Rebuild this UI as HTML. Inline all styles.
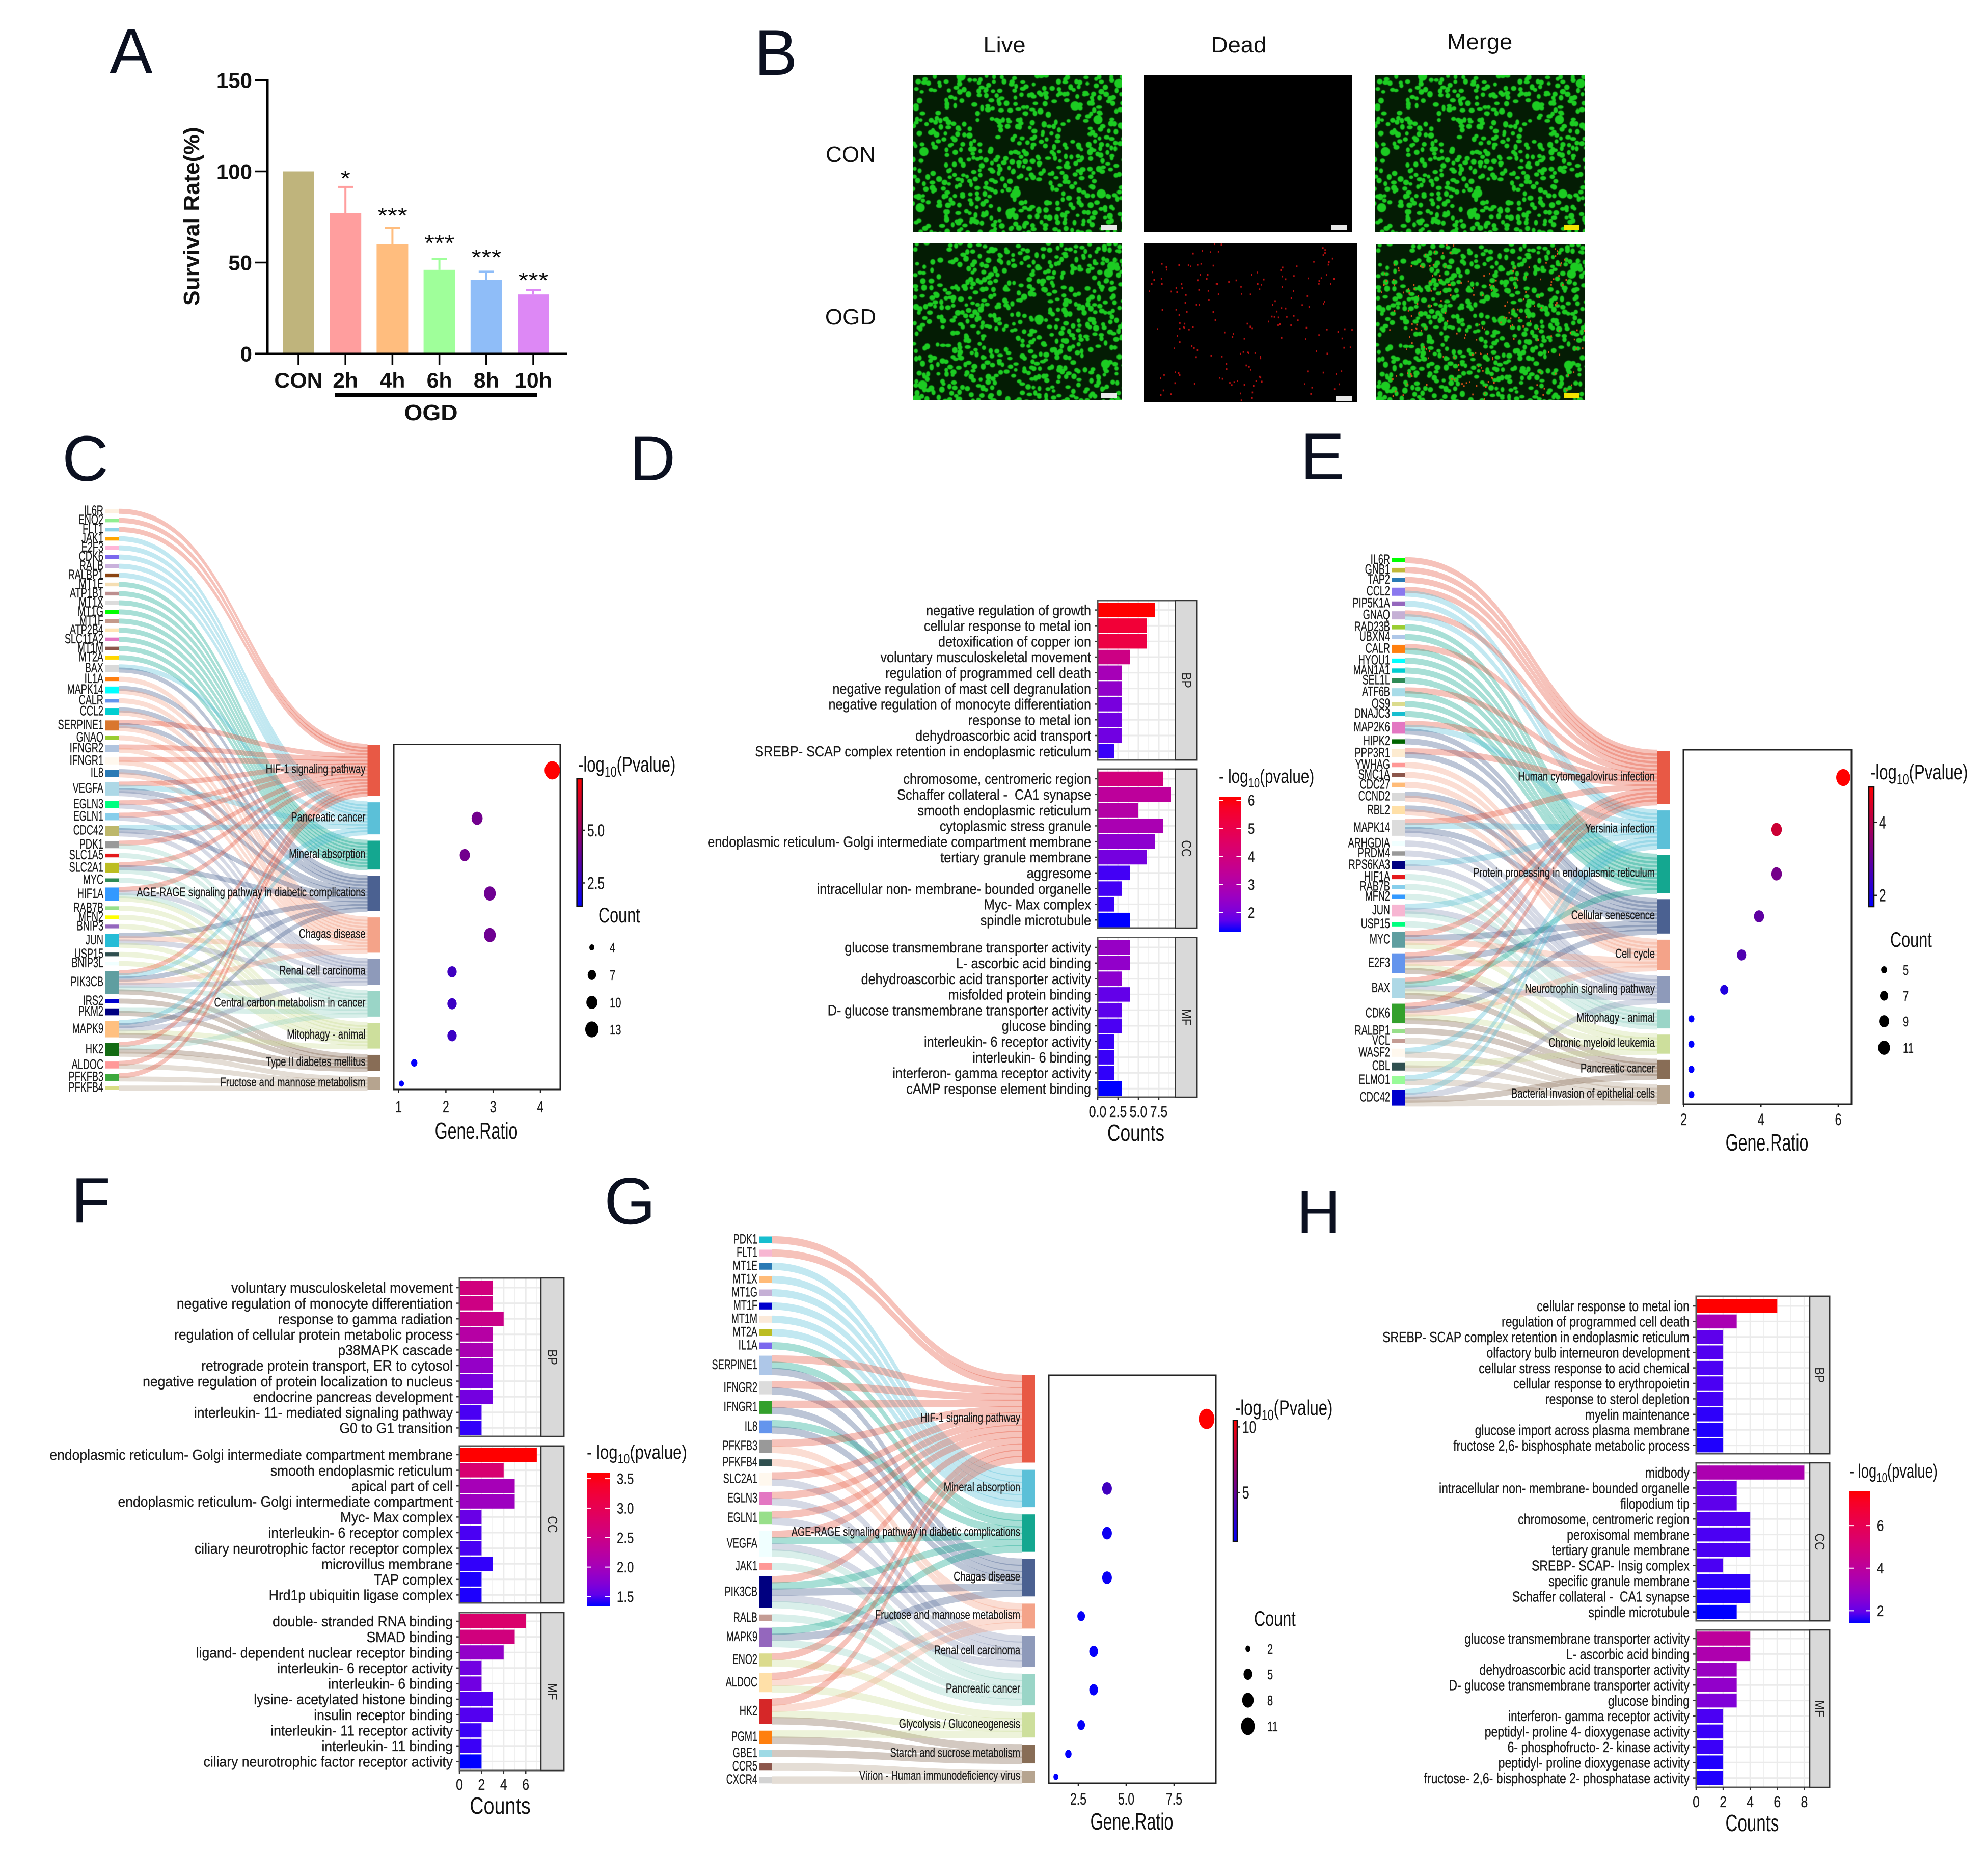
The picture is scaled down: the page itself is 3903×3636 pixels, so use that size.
<!DOCTYPE html>
<html lang="en">
<head>
<meta charset="utf-8">
<title>Survival, live/dead imaging and enrichment analysis figure</title>
<style>
html,body{margin:0;padding:0;background:#fff;}
svg{display:block;font-family:"Liberation Sans",sans-serif;}
text{white-space:pre;}
</style>
</head>
<body>
<svg id="figure" xmlns="http://www.w3.org/2000/svg" width="3903" height="3636" viewBox="0 0 3903 3636">
<defs>
<linearGradient id="blue-red" x1="0" y1="1" x2="0" y2="0"><stop offset="0" stop-color="#0000ff"/><stop offset="1" stop-color="#ff0000"/></linearGradient>
<linearGradient id="blue-red-lab" x1="0" y1="1" x2="0" y2="0"></linearGradient>
<filter id="soft-cells" x="0" y="0" width="100%" height="100%"><feGaussianBlur stdDeviation="0.9"/></filter>
</defs>
<rect width="3903" height="3636" fill="#fff"/>

<g font-size="127" fill="#0b1020">
<text x="215" y="144">A</text>
<text x="1481" y="147">B</text>
<text x="122" y="944" font-size="126">C</text>
<text x="1236" y="943" font-size="125">D</text>
<text x="2553" y="941" font-size="130">E</text>
<text x="140" y="2400" font-size="126">F</text>
<text x="1186" y="2403" font-size="130">G</text>
<text x="2546" y="2420" font-size="118">H</text>
</g>

<g id="panel-a">
<text transform="translate(391 600) rotate(-90) scale(1.01 1)" font-size="44" font-weight="bold" fill="#111">Survival Rate(%)</text>
<text transform="translate(846 825) scale(1.05 1)" font-size="44" font-weight="bold" text-anchor="middle" fill="#111">OGD</text>
<rect x="657" y="771" width="398" height="8" fill="#000"/>
</g>

<g id="panel-b">
<g font-size="44" fill="#111" text-anchor="middle">
<text transform="translate(1972 103) scale(1.03 1)">Live</text>
<text transform="translate(2432 103) scale(1.03 1)">Dead</text>
<text transform="translate(2905 97) scale(1.03 1)">Merge</text>
<text transform="translate(1670 318)">CON</text>
<text transform="translate(1670 637)">OGD</text>
</g>
</g>

<g id="panel-c">
<text transform="translate(1135 1515) scale(.74 1)" font-size="42" fill="#111">-log<tspan dy="10" font-size="29">10</tspan><tspan dy="-10">(Pvalue)</tspan></text>
<text transform="translate(1175 1811) scale(.73 1)" font-size="42" fill="#111">Count</text>
<text transform="translate(935 2236) scale(.7 1)" font-size="46" text-anchor="middle" fill="#111">Gene.Ratio</text>
</g>

<g id="panel-d">
<text transform="translate(2393 1537) scale(.78 1)" font-size="38" fill="#111">- log<tspan dy="9" font-size="26">10</tspan><tspan dy="-9">(pvalue)</tspan></text>
<text transform="translate(2230 2240) scale(.77 1)" font-size="46" text-anchor="middle" fill="#111">Counts</text>
</g>

<g id="panel-e">
<text transform="translate(3672 1530) scale(.74 1)" font-size="42" fill="#111">-log<tspan dy="10" font-size="29">10</tspan><tspan dy="-10">(Pvalue)</tspan></text>
<text transform="translate(3711 1859) scale(.73 1)" font-size="42" fill="#111">Count</text>
<text transform="translate(3469 2259) scale(.7 1)" font-size="46" text-anchor="middle" fill="#111">Gene.Ratio</text>
</g>

<g id="panel-f">
<text transform="translate(1152 2864) scale(.82 1)" font-size="38" fill="#111">- log<tspan dy="9" font-size="26">10</tspan><tspan dy="-9">(pvalue)</tspan></text>
<text transform="translate(982 3561) scale(.82 1)" font-size="46" text-anchor="middle" fill="#111">Counts</text>
</g>

<g id="panel-g">
<text transform="translate(2425 2778) scale(.74 1)" font-size="42" fill="#111">-log<tspan dy="10" font-size="29">10</tspan><tspan dy="-10">(Pvalue)</tspan></text>
<text transform="translate(2462 3192) scale(.73 1)" font-size="42" fill="#111">Count</text>
<text transform="translate(2222 3592) scale(.7 1)" font-size="46" text-anchor="middle" fill="#111">Gene.Ratio</text>
</g>

<g id="panel-h">
<text transform="translate(3631 2901) scale(.72 1)" font-size="38" fill="#111">- log<tspan dy="9" font-size="26">10</tspan><tspan dy="-9">(pvalue)</tspan></text>
<text transform="translate(3440 3595) scale(.72 1)" font-size="46" text-anchor="middle" fill="#111">Counts</text>
</g>
</svg>

<script>
/* ---------- Panel A data ---------- */
const survivalCategories = ['CON','2h','4h','6h','8h','10h'];
const survivalMeans = [100,77,60,46,40.5,32.5];
const survivalErrorTops = [100,91.5,69,52,45,35];
const survivalStars = ['','*','***','***','***','***'];
const survivalTicks = [0,50,100,150];

/* ---------- Panel C data ---------- */
const cGenes = ['IL6R','ENO2','FLT1','JAK1','E2F3','CDK6','RALB','RALBP1','MT1E','ATP1B1','MT1X','MT1G','MT1F','ATP2B4','SLC11A2','MT1M','MT2A','BAX','IL1A','MAPK14','CALR','CCL2','SERPINE1','GNAQ','IFNGR2','IFNGR1','IL8','VEGFA','EGLN3','EGLN1','CDC42','PDK1','SLC1A5','SLC2A1','MYC','HIF1A','RAB7B','MFN2','BNIP3','JUN','USP15','BNIP3L','PIK3CB','IRS2','PKM2','MAPK9','HK2','ALDOC','PFKFB3','PFKFB4'];
const cGeneLinks = [[0],[0],[0],[1],[1],[1],[1],[1],[2],[2],[2],[2],[2],[2],[2],[2],[2],[1,3],[4],[3,4],[4],[3,4],[0,3,4],[4],[0,4],[0,4],[3,4],[0,1,3,5],[0,5],[0,5],[1,3,5],[0,6],[6],[0,3,6],[6],[0,5,6,7],[7],[7],[7],[3,4,5,7],[7],[7],[0,1,3,4,5,6,8],[8],[6,8],[1,3,5,7,8],[0,6,8,9],[0,9],[0,9],[9]];
const cGeneColors = ['#fdf0e0','#90ee90','#8fd3e8','#ffa500','#ffb6d8','#7b68ee','#c9b1dc','#8b4513','#f5deb3','#bc8f8f','#dcdcdc','#00ff00','#c49a8a','#ffe4b5','#e377c2','#8c564b','#ffd700','#d9d9d9','#ff7f0e','#00ffff','#6495ed','#00ced1','#d9772e','#9acd32','#b0c4de','#fff8ee','#2a7ab5','#add8e6','#00ff7f','#87ceeb','#bdb76b','#999999','#e41a1c','#bcbd22','#2e8b57','#3399ff','#98df8a','#ffff00','#9467bd','#26bcd6','#2f4f4f','#f0ffff','#5f9ea0','#0000cd','#000080','#ffc080','#136b13','#ff9999','#3ca83c','#d8dc84'];
const cPathways = ['HIF-1 signaling pathway','Pancreatic cancer','Mineral absorption','AGE-RAGE signaling pathway in diabetic complications','Chagas disease','Renal cell carcinoma','Central carbon metabolism in cancer','Mitophagy - animal','Type II diabetes mellitus','Fructose and mannose metabolism'];
const cRatios = [4.25,2.66,2.4,2.93,2.93,2.13,2.13,2.13,1.33,1.06];
const cCounts = [16,10,9,11,11,8,8,8,5,4];
const cPvalues = [7.44,4.1,4.1,4.0,4.0,2.9,2.8,2.8,1.5,1.4];
const cXTicks = [1,2,3,4];
const cColorTicks = ['5.0','2.5'];
const cLegendCounts = [4,7,10,13];

/* ---------- Panel E data ---------- */
const eGenes = ['IL6R','GNB1','TAP2','CCL2','PIP5K1A','GNAQ','RAD23B','UBXN4','CALR','HYOU1','MAN1A1','SEL1L','ATF6B','OS9','DNAJC3','MAP2K6','HIPK2','PPP3R1','YWHAG','SMC1A','CDC27','CCND2','RBL2','MAPK14','ARHGDIA','PRDM4','RPS6KA3','HIF1A','RAB7B','MFN2','JUN','USP15','MYC','E2F3','BAX','CDK6','RALBP1','VCL','WASF2','CBL','ELMO1','CDC42'];
const eGeneLinks = [[0],[0],[0],[0,1],[1],[0,1],[2],[2],[0,2],[2],[2],[2],[0,2],[2],[2],[0,1,3],[3],[0,3],[4],[4],[4],[3,4],[3,4],[0,1,3,5],[5],[5],[1,5],[6],[6],[6],[1,5,6],[6],[0,3,4,7],[0,3,4,7,8],[0,2,5,7,8],[0,3,4,7,8],[8],[9],[1,9],[7,9],[1,9],[1,5,8,9]];
const eGeneColors = ['#00ff00','#c0b838','#2a7ab5','#8a78ee','#9467bd','#c5b0d5','#9acd32','#aec7e8','#ff7f0e','#00ffff','#00ced1','#2e8b57','#a8dce8','#dbdb8d','#17becf','#e377c2','#006400','#fdebd0','#ff9896','#8c564b','#ffbb78','#d9d9d9','#ffe0a8','#dcdcdc','#f0ffff','#999999','#000080','#e41a1c','#87ceeb','#3399ff','#f7b6d2','#00ff7f','#5f9ea0','#6495ed','#add8e6','#33a02c','#98df8a','#c49c94','#fff8ee','#2f4f4f','#98fb98','#0000cd'];
const ePathways = ['Human cytomegalovirus infection','Yersinia infection','Protein processing in endoplasmic reticulum','Cellular senescence','Cell cycle','Neurotrophin signaling pathway','Mitophagy - animal','Chronic myeloid leukemia','Pancreatic cancer','Bacterial invasion of epithelial cells'];
const eRatios = [6.13,4.4,4.4,3.95,3.5,3.05,2.2,2.2,2.2,2.2];
const eCounts = [14,10,10,9,8,7,5,5,5,5];
const ePvalues = [4.97,4.3,3.2,2.9,2.7,2.1,1.7,1.7,1.7,1.7];
const eXTicks = [2,4,6];
const eColorTicks = ['4','2'];
const eLegendCounts = [5,7,9,11];

/* ---------- Panel G data ---------- */
const gGenes = ['PDK1','FLT1','MT1E','MT1X','MT1G','MT1F','MT1M','MT2A','IL1A','SERPINE1','IFNGR2','IFNGR1','IL8','PFKFB3','PFKFB4','SLC2A1','EGLN3','EGLN1','VEGFA','JAK1','PIK3CB','RALB','MAPK9','ENO2','ALDOC','HK2','PGM1','GBE1','CCR5','CXCR4'];
const gGeneLinks = [[0],[0],[1],[1],[1],[1],[1],[1],[2],[0,2,3],[0,3],[0,3],[2,3],[0,4],[4],[0,5],[0,5],[0,5],[0,2,5,6],[6],[0,2,3,5,6],[6],[2,3,6],[0,7],[0,4,7],[0,4,7,8],[7,8],[8],[9],[9]];
const gGeneColors = ['#17becf','#f7b6d2','#2a7ab5','#ffbb78','#c5b0d5','#0000cd','#fbe9d9','#bcbd22','#7b68ee','#aec7e8','#dcdcdc','#33a02c','#6495ed','#999999','#2f4f4f','#fff8ee','#e377c2','#98df8a','#f0ffff','#ff9896','#000080','#c49c94','#9467bd','#dbdb8d','#ffe0a8','#d62728','#ff7f0e','#9edae5','#8c564b','#d3d3d3'];
const gPathways = ['HIF-1 signaling pathway','Mineral absorption','AGE-RAGE signaling pathway in diabetic complications','Chagas disease','Fructose and mannose metabolism','Renal cell carcinoma','Pancreatic cancer','Glycolysis / Gluconeogenesis','Starch and sucrose metabolism','Virion - Human immunodeficiency virus'];
const gRatios = [9.2,4,4,4,2.65,3.3,3.3,2.65,1.98,1.33];
const gCounts = [14,6,6,6,4,5,5,4,3,2];
const gPvalues = [10.5,3.6,1.75,1.65,1.5,1.45,1.45,1.45,1.35,1.3];
const gXTicks = [2.5,5,7.5];
const gColorTicks = ['10','5'];
const gLegendCounts = [2,5,8,11];

const pathwayPalette = ['#E64B35','#4DBBD5','#00A087','#3C5488','#F39B7F','#8491B4','#91D1C2','#C9DC94','#7E6148','#B09C85'];

/* ---------- Panel D data ---------- */
const dBpTerms = ['negative regulation of growth','cellular response to metal ion','detoxification of copper ion','voluntary musculoskeletal movement','regulation of programmed cell death','negative regulation of mast cell degranulation','negative regulation of monocyte differentiation','response to metal ion','dehydroascorbic acid transport','SREBP- SCAP complex retention in endoplasmic reticulum'];
const dBpCounts = [7,6,6,4,3,3,3,3,3,2];
const dBpPvalues = [6.13,5.41,5.17,3.82,2.76,2.38,1.99,1.9,1.9,1.46];
const dCcTerms = ['chromosome, centromeric region','Schaffer collateral -  CA1 synapse','smooth endoplasmic reticulum','cytoplasmic stress granule','endoplasmic reticulum- Golgi intermediate compartment membrane','tertiary granule membrane','aggresome','intracellular non- membrane- bounded organelle','Myc- Max complex','spindle microtubule'];
const dCcCounts = [8,9,5,8,7,6,4,3,2,4];
const dCcPvalues = [3.97,3.34,3.1,2.86,2.28,1.95,1.51,1.51,1.46,1.32];
const dMfTerms = ['glucose transmembrane transporter activity','L- ascorbic acid binding','dehydroascorbic acid transporter activity','misfolded protein binding','D- glucose transmembrane transporter activity','glucose binding','interleukin- 6 receptor activity','interleukin- 6 binding','interferon- gamma receptor activity','cAMP response element binding'];
const dMfCounts = [4,4,3,4,3,3,2,2,2,3];
const dMfPvalues = [2.47,2.38,2.28,1.75,1.7,1.56,1.46,1.46,1.42,1.32];
const dXTicks = [0,2.5,5,7.5];
const dColorTicks = [6,5,4,3,2];

/* ---------- Panel F data ---------- */
const fBpTerms = ['voluntary musculoskeletal movement','negative regulation of monocyte differentiation','response to gamma radiation','regulation of cellular protein metabolic process','p38MAPK cascade','retrograde protein transport, ER to cytosol','negative regulation of protein localization to nucleus','endocrine pancreas development','interleukin- 11- mediated signaling pathway','G0 to G1 transition'];
const fBpCounts = [3,3,4,3,3,3,3,3,2,2];
const fBpPvalues = [2.58,2.52,2.47,2.2,2.06,1.86,1.66,1.63,1.45,1.39];
const fCcTerms = ['endoplasmic reticulum- Golgi intermediate compartment membrane','smooth endoplasmic reticulum','apical part of cell','endoplasmic reticulum- Golgi intermediate compartment','Myc- Max complex','interleukin- 6 receptor complex','ciliary neurotrophic factor receptor complex','microvillus membrane','TAP complex','Hrd1p ubiquitin ligase complex'];
const fCcCounts = [7,4,5,5,2,2,2,3,2,2];
const fCcPvalues = [3.6,2.7,2.02,1.93,1.57,1.45,1.45,1.39,1.36,1.36];
const fMfTerms = ['double- stranded RNA binding','SMAD binding','ligand- dependent nuclear receptor binding','interleukin- 6 receptor activity','interleukin- 6 binding','lysine- acetylated histone binding','insulin receptor binding','interleukin- 11 receptor activity','interleukin- 11 binding','ciliary neurotrophic factor receptor activity'];
const fMfCounts = [6,5,4,2,2,3,3,2,2,2];
const fMfPvalues = [2.76,2.58,1.84,1.61,1.61,1.48,1.48,1.41,1.41,1.34];
const fXTicks = [0,2,4,6];
const fColorTicks = [3.5,3.0,2.5,2.0,1.5];

/* ---------- Panel H data ---------- */
const hBpTerms = ['cellular response to metal ion','regulation of programmed cell death','SREBP- SCAP complex retention in endoplasmic reticulum','olfactory bulb interneuron development','cellular stress response to acid chemical','cellular response to erythropoietin','response to sterol depletion','myelin maintenance','glucose import across plasma membrane','fructose 2,6- bisphosphate metabolic process'];
const hBpCounts = [6,3,2,2,2,2,2,2,2,2];
const hBpPvalues = [7.63,3.4,1.91,1.78,1.72,1.72,1.66,1.53,1.47,1.47];
const hCcTerms = ['midbody','intracellular non- membrane- bounded organelle','filopodium tip','chromosome, centromeric region','peroxisomal membrane','tertiary granule membrane','SREBP- SCAP- Insig complex','specific granule membrane','Schaffer collateral -  CA1 synapse','spindle microtubule'];
const hCcCounts = [8,3,3,4,4,4,2,4,4,3];
const hCcPvalues = [3.46,1.97,1.91,1.78,1.72,1.72,1.72,1.53,1.47,1.41];
const hMfTerms = ['glucose transmembrane transporter activity','L- ascorbic acid binding','dehydroascorbic acid transporter activity','D- glucose transmembrane transporter activity','glucose binding','interferon- gamma receptor activity','peptidyl- proline 4- dioxygenase activity','6- phosphofructo- 2- kinase activity','peptidyl- proline dioxygenase activity','fructose- 2,6- bisphosphate 2- phosphatase activity'];
const hMfCounts = [4,4,3,3,3,2,2,2,2,2];
const hMfPvalues = [4.02,3.52,2.97,2.78,2.41,1.72,1.6,1.6,1.47,1.47];
const hXTicks = [0,2,4,6,8];
const hColorTicks = [6,4,2];

/* ---------- Helpers ---------- */
const NS = 'http://www.w3.org/2000/svg';
function shape(tag, attrs, parent) {
  const e = document.createElementNS(NS, tag);
  for (const k in attrs) e.setAttribute(k, attrs[k]);
  parent.appendChild(e);
  return e;
}
function label(x, y, str, fs, sx, anchor, parent) {
  const e = shape('text', {transform: 'translate(' + x + ' ' + (y + fs * 0.35) + ') scale(' + sx + ' 1)', 'font-size': fs, 'text-anchor': anchor, fill: '#1c1c1c', stroke: '#1c1c1c', 'stroke-width': 0.35}, parent);
  e.textContent = str;
  return e;
}
function linear(d0, d1, r0, r1) { return v => r0 + (v - d0) * (r1 - r0) / (d1 - d0); }
function heat(v, lo, hi) {
  const t = Math.max(0, Math.min(1, (v - lo) / (hi - lo)));
  return 'rgb(' + Math.round(255 * t) + ',0,' + Math.round(255 * (1 - t)) + ')';
}
function labMix(t) {
  const L = 32.3 + 20.9 * t, A = 79.2 + 0.9 * t, B = -107.9 + 175.1 * t;
  const fy = (L + 16) / 116, fx = fy + A / 500, fz = fy - B / 200;
  const X = 0.95047 * fx * fx * fx, Y = fy * fy * fy, Z = 1.08883 * fz * fz * fz;
  const gam = c => {
    const u = Math.max(0, Math.min(1, c));
    return Math.round(255 * (u <= 0.0031308 ? 12.92 * u : 1.055 * Math.pow(u, 1 / 2.4) - 0.055));
  };
  const R = 3.2406 * X - 1.5372 * Y - 0.4986 * Z;
  const G = -0.9689 * X + 1.8758 * Y + 0.0415 * Z;
  const Bl = 0.0557 * X - 0.204 * Y + 1.057 * Z;
  return 'rgb(' + gam(R) + ',' + gam(G) + ',' + gam(Bl) + ')';
}
function heatLab(v, lo, hi) {
  return labMix(Math.max(0, Math.min(1, (v - lo) / (hi - lo))));
}
(function () {
  const grad = document.getElementById('blue-red-lab');
  for (let i = 0; i <= 12; i++) {
    shape('stop', {offset: i / 12, 'stop-color': labMix(i / 12)}, grad);
  }
})();

/* ---------- Panel A ---------- */
(function () {
  const g = document.getElementById('panel-a');
  const y = linear(0, 100, 694.5, 336.5);
  const x = i => 586 + i * 92.2;
  const colors = ['#bfb47c','#ff9e9e','#ffbd7e','#9fff9a','#8fbdf8','#dd88f5'];
  const starY = [0, 341, 414, 468, 496, 541];
  survivalCategories.forEach((c, i) => {
    const stem = shape('rect', {x: x(i) - 2, y: y(survivalErrorTops[i]), width: 4, height: y(survivalMeans[i]) - y(survivalErrorTops[i]), fill: colors[i]}, g);
    
    
    const cap = shape('rect', {x: x(i) - 15, y: y(survivalErrorTops[i]) - 2, width: i ? 30 : 0, height: 4, fill: colors[i]}, g);
    
    
    const bar = shape('rect', {x: x(i) - 31, y: y(survivalMeans[i]), width: 62, height: 694.5 - y(survivalMeans[i]), fill: colors[i]}, g);
    
    
    const tick = shape('rect', {x: x(i) - 1.75, y: 694, width: 3.5, height: 23, fill: '#000'}, g);
    
    
    const lab = shape('text', {transform: 'translate(' + x(i) + ' 761) scale(1.02 1)', 'font-size': 42, 'font-weight': 'bold', 'text-anchor': 'middle', fill: '#111'}, g);
    lab.textContent = c;
    
    
    if (survivalStars[i]) {
      const star = shape('text', {transform: 'translate(' + x(i) + ' ' + (starY[i] + 24) + ') scale(1.15 1)', 'font-size': 44, 'text-anchor': 'middle', fill: '#111'}, g);
      star.textContent = survivalStars[i];
      
      
    }
  });
  survivalTicks.forEach(t => {
    const tick = shape('rect', {x: 501, y: y(t) - 1.75, width: 24, height: 3.5, fill: '#000'}, g);
    
    
    const lab = shape('text', {transform: 'translate(495 ' + (y(t) + 15) + ')', 'font-size': 42, 'font-weight': 'bold', 'text-anchor': 'end', fill: '#111'}, g);
    lab.textContent = t;
    
    
  });
  const yAxis = shape('rect', {x: 522.5, y: 155, width: 5, height: 541, fill: '#000'}, g);
  
  
  const xAxis = shape('rect', {x: 501, y: 692.5, width: 612, height: 4, fill: '#000'}, g);
  
  
})();

/* ---------- Panel B: decorative micrograph texture (not chart data) ---------- */
(function () {
  const g = document.getElementById('panel-b');
  const voidsRow1 = [[.09,.18],[.24,.24],[.35,.36],[.78,.34],[.56,.72],[.42,.8],[.08,.9],[.62,.76],[.72,.23],[.1,.55],[.43,.45],[.93,.68]];
  const voidsRow2 = [[.88,.73],[.4,.62],[.5,.2],[.2,.19],[.8,.24],[.45,.9],[.1,.05],[.08,.6],[.58,.4]];
  const clusters = [[.44,.22],[.16,.33],[.16,.57],[.66,.52],[.7,.42],[.3,.05],[.34,.8],[.14,.85],[.55,.78],[.9,.62],[.05,.2],[.88,.12],[.5,.92],[.25,.45],[.42,.6],[.78,.3],[.85,.88],[.25,.2],[.62,.22]];
  function cellPath(w, h, voids, seed) {
    let s = seed;
    const rnd = () => (s = (s * 16807) % 2147483647) / 2147483647;
    let d = '';
    for (let gy = 0; gy < h / 12.5; gy++) for (let gx = 0; gx < w / 13; gx++) {
      const cx = (gx + .5 + (rnd() - .5) * 1.1) * 13, cy = (gy + .5 + (rnd() - .5) * 1.1) * 12.5;
      const big = rnd() > .985;
      const rx = big ? 9 : 3.6 + rnd() * 2.4, ry = big ? 9 : 3.4 + rnd() * 2.2;
      let skip = rnd() < .1;
      voids.forEach(v => {
        const dx = (cx / w - v[0]) / .06, dy = (cy / h - v[1]) / .055;
        if (dx * dx + dy * dy < 1) skip = true;
      });
      if (skip) continue;
      d += 'M' + (cx - rx).toFixed(1) + ' ' + cy.toFixed(1) + 'a' + rx.toFixed(1) + ' ' + ry.toFixed(1) + ' 0 1 0 ' + (2 * rx).toFixed(1) + ' 0a' + rx.toFixed(1) + ' ' + ry.toFixed(1) + ' 0 1 0 ' + (-2 * rx).toFixed(1) + ' 0z';
    }
    return d;
  }
  function deadPath(w, h, seed) {
    let s = seed;
    const rnd = () => (s = (s * 16807) % 2147483647) / 2147483647;
    let d = '';
    clusters.forEach(c => {
      for (let i = 0; i < 10; i++) {
        const cx = (c[0] + (rnd() - .5) * .2) * w, cy = (c[1] + (rnd() - .5) * .2) * h;
        d += 'M' + cx.toFixed(1) + ' ' + cy.toFixed(1) + 'h2.6v3.6h-2.6z';
      }
    });
    return d;
  }
  const row1 = cellPath(410, 307, voidsRow1, 12345);
  const row2 = cellPath(410, 308, voidsRow2, 67891);
  const dead = deadPath(418, 313, 4242);
  function scaleBar(parent, w, h, color) {
    const r = shape('rect', {x: w - 41, y: h - 13, width: 31, height: 10, fill: color}, parent);
    
    
  }
  const a = shape('svg', {x: 1793, y: 148, width: 410, height: 307}, g);
  
  
  shape('rect', {width: 410, height: 307, fill: '#041c04'}, a);
  shape('path', {d: row1, fill: '#1ecc24', filter: 'url(#soft-cells)'}, a);
  scaleBar(a, 410, 307, '#e8e8e8');
  const b = shape('svg', {x: 2246, y: 148, width: 409, height: 307}, g);
  
  
  shape('rect', {width: 409, height: 307, fill: '#000'}, b);
  scaleBar(b, 409, 307, '#e8e8e8');
  const c = shape('svg', {x: 2699, y: 148, width: 412, height: 307}, g);
  
  
  shape('rect', {width: 412, height: 307, fill: '#041c04'}, c);
  shape('path', {d: row1, fill: '#1ecc24', filter: 'url(#soft-cells)'}, c);
  scaleBar(c, 412, 307, '#f5e400');
  const d = shape('svg', {x: 1793, y: 477, width: 410, height: 308}, g);
  
  
  shape('rect', {width: 410, height: 308, fill: '#041c04'}, d);
  shape('path', {d: row2, fill: '#1ecc24', filter: 'url(#soft-cells)'}, d);
  scaleBar(d, 410, 308, '#e8e8e8');
  const e = shape('svg', {x: 2246, y: 477, width: 418, height: 313}, g);
  
  
  shape('rect', {width: 418, height: 313, fill: '#000'}, e);
  shape('path', {d: dead, fill: '#b81010'}, e);
  scaleBar(e, 418, 313, '#e8e8e8');
  const f = shape('svg', {x: 2702, y: 479, width: 409, height: 306}, g);
  
  
  shape('rect', {width: 409, height: 306, fill: '#041c04'}, f);
  shape('path', {d: row2, fill: '#1ecc24', filter: 'url(#soft-cells)'}, f);
  shape('path', {d: dead, fill: '#d8501a'}, f);
  scaleBar(f, 409, 306, '#f5e400');
})();

/* ---------- Sankey + dot plot ---------- */
function drawSankey(g, genes, geneLinks, geneColors, pathways, ratios, counts, pvalues, xTicks, colorTicks, legendCounts, L) {
  const pathCount = pathways.map(() => 0);
  geneLinks.forEach(ls => ls.forEach(p => pathCount[p]++));
  const pathTop = [];
  let yr = L.rightTop;
  pathways.forEach((p, i) => { pathTop.push(yr); yr += pathCount[i] * L.u + L.rightGap; });
  const pathNext = pathTop.slice();
  let yl = L.leftTop;
  const nodeTop = [];
  const half = L.bandH / 2;
  genes.forEach((name, i) => {
    nodeTop.push(yl);
    let y0 = yl + L.u / 2;
    geneLinks[i].forEach(p => {
      const y1 = pathNext[p] + L.u / 2;
      pathNext[p] += L.u;
      const mx = (L.leftX1 + L.rightX0) / 2;
      const d = 'M' + L.leftX1 + ' ' + (y0 - half) + 'C' + mx + ' ' + (y0 - half) + ' ' + mx + ' ' + (y1 - half) + ' ' + L.rightX0 + ' ' + (y1 - half) +
        'V' + (y1 + half) + 'C' + mx + ' ' + (y1 + half) + ' ' + mx + ' ' + (y0 + half) + ' ' + L.leftX1 + ' ' + (y0 + half) + 'Z';
      const band = shape('path', {d: d, fill: pathwayPalette[p], 'fill-opacity': 0.34}, g);
      
      
      y0 += L.u;
    });
    yl += geneLinks[i].length * L.u + L.leftGap;
  });
  genes.forEach((name, i) => {
    const h = geneLinks[i].length * L.u;
    const node = shape('rect', {x: L.leftX0, y: nodeTop[i] - 0.5, width: L.leftX1 - L.leftX0, height: h + 1, fill: geneColors[i]}, g);
    
    
    const t = label(L.leftX0 - 4, nodeTop[i] + h / 2 - 2, name, 27, 0.67, 'end', g);
    
    
  });
  const x = linear(xTicks[0], xTicks[xTicks.length - 1], L.tick0, L.tick1);
  const box = shape('rect', {x: L.boxX0, y: L.boxY0, width: L.boxX1 - L.boxX0, height: L.boxY1 - L.boxY0, fill: '#fff', stroke: '#222', 'stroke-width': 3}, g);
  
  
  pathways.forEach((p, i) => {
    const h = pathCount[i] * L.u;
    const node = shape('rect', {x: L.rightX0, y: pathTop[i], width: L.rightX1 - L.rightX0, height: h, fill: pathwayPalette[i], 'fill-opacity': 0.92}, g);
    
    
    const t = label(L.rightX0 - 4, pathTop[i] + h / 2 - 3, p, 25, 0.73, 'end', g);
    
    
    const rx = L.ra + L.rb * Math.sqrt(counts[i]);
    const dot = shape('ellipse', {cx: x(ratios[i]), cy: pathTop[i] + h / 2, rx: rx, ry: rx * L.ryk, fill: heat(pvalues[i], L.cbLo, L.cbHi)}, g);
    
    
  });
  xTicks.forEach(v => {
    const tick = shape('line', {x1: x(v), x2: x(v), y1: L.boxY1, y2: L.boxY1 + 6, stroke: '#222', 'stroke-width': 2.5}, g);
    
    
    const t = label(x(v), L.boxY1 + L.tickDy, L.dec ? v.toFixed(L.dec) : String(v), 32, 0.72, 'middle', g);
    
    
  });
  const cb = shape('rect', {x: L.cbX0, y: L.cbY0, width: L.cbX1 - L.cbX0, height: L.cbY1 - L.cbY0, fill: 'url(#blue-red)', stroke: '#111', 'stroke-width': 2.5}, g);
  
  
  const cy = linear(L.cbLo, L.cbHi, L.cbY1, L.cbY0);
  colorTicks.forEach(v => {
    const yy = cy(parseFloat(v));
    const tick = shape('line', {x1: L.cbX1, x2: L.cbX1 + 6, y1: yy, y2: yy, stroke: '#222', 'stroke-width': 2.5}, g);
    
    
    const t = label(L.cbX1 + 10, yy, v, 34, 0.72, 'start', g);
    
    
  });
  legendCounts.forEach((c, i) => {
    const rx = L.ra + L.rb * Math.sqrt(c);
    const dot = shape('ellipse', {cx: L.legX, cy: L.legY[i], rx: rx, ry: rx * L.ryk, fill: '#000'}, g);
    
    
    const t = label(L.legTextX, L.legY[i], String(c), 28, 0.72, 'start', g);
    
    
  });
}

drawSankey(document.getElementById('panel-c'), cGenes, cGeneLinks, cGeneColors, cPathways, cRatios, cCounts, cPvalues, cXTicks, cColorTicks, cLegendCounts, {
  u: 6.3, bandH: 10, leftTop: 1000.6, leftGap: 11.67, rightTop: 1462, rightGap: 12.33,
  leftX0: 207, leftX1: 233, rightX0: 721.5, rightX1: 747,
  boxX0: 773, boxX1: 1100, boxY0: 1461.5, boxY1: 2139,
  tick0: 782.6, tick1: 1061, tickDy: 34, dec: 0,
  ra: -5, rb: 5, ryk: 1.2,
  cbX0: 1132.6, cbX1: 1143, cbY0: 1529, cbY1: 1779, cbLo: 1.4, cbHi: 7.44,
  legX: 1162, legY: [1860, 1914, 1968, 2021], legTextX: 1197
});
drawSankey(document.getElementById('panel-e'), eGenes, eGeneLinks, eGeneColors, ePathways, eRatios, eCounts, ePvalues, eXTicks, eColorTicks, eLegendCounts, {
  u: 7.5, bandH: 12, leftTop: 1096, leftGap: 11.93, rightTop: 1474, rightGap: 12.1,
  leftX0: 2733, leftX1: 2758, rightX0: 3253, rightX1: 3278,
  boxX0: 3305, boxX1: 3635, boxY0: 1472, boxY1: 2168,
  tick0: 3305.5, tick1: 3609, tickDy: 30, dec: 0,
  ra: -6, rb: 5.3, ryk: 1.2,
  cbX0: 3669, cbX1: 3679, cbY0: 1545, cbY1: 1780, cbLo: 1.69, cbHi: 4.97,
  legX: 3699, legY: [1904, 1955, 2005, 2057], legTextX: 3736
});
drawSankey(document.getElementById('panel-g'), gGenes, gGeneLinks, gGeneColors, gPathways, gRatios, gCounts, gPvalues, gXTicks, gColorTicks, gLegendCounts, {
  u: 12.25, bandH: 14.5, leftTop: 2428, leftGap: 13.76, rightTop: 2700, rightGap: 14.1,
  leftX0: 1491, leftX1: 1515, rightX0: 2007, rightX1: 2032,
  boxX0: 2059, boxX1: 2387, boxY0: 2700, boxY1: 3501,
  tick0: 2117, tick1: 2305, tickDy: 31, dec: 1,
  ra: -1.5, rb: 4.5, ryk: 1.3,
  cbX0: 2421, cbX1: 2429, cbY0: 2788.5, cbY1: 3026, cbLo: 1.28, cbHi: 10.5,
  legX: 2450, legY: [3237, 3287, 3338, 3389], legTextX: 2488
});

/* ---------- Faceted bar charts ---------- */
function drawFacets(g, facets, xTicks, colorTicks, L) {
  const x = linear(0, 1, L.x0, L.x0 + L.unit);
  facets.forEach((f, k) => {
    const top = L.tops[k], bottom = L.bottoms[k];
    const bg = shape('rect', {x: L.x0, y: top, width: L.x1 - L.x0, height: bottom - top, fill: '#fff'}, g);
    
    
    xTicks.forEach((v, i) => {
      const line = shape('line', {x1: x(v), x2: x(v), y1: top, y2: bottom, stroke: '#ebebeb', 'stroke-width': 3}, g);
      
      
      const step = xTicks[1] - xTicks[0];
      const minor = shape('line', {x1: x(v + step / 2), x2: x(v + step / 2), y1: top, y2: bottom, stroke: '#f0f0f0', 'stroke-width': 1.6}, g);
      
      
    });
    f.terms.forEach((term, i) => {
      const cy = L.rows[k] + i * L.pitch;
      const line = shape('line', {x1: L.x0, x2: L.x1, y1: cy, y2: cy, stroke: '#ebebeb', 'stroke-width': 3}, g);
      
      
      const bar = shape('rect', {x: L.x0, y: cy - L.barH / 2, width: x(f.counts[i]) - L.x0, height: L.barH, fill: heatLab(f.pvalues[i], L.cbLo, L.cbHi)}, g);
      
      
      const tick = shape('line', {x1: L.x0 - 6, x2: L.x0, y1: cy, y2: cy, stroke: '#333', 'stroke-width': 2.5}, g);
      
      
      const t = label(L.x0 - 13, cy, term, L.fs, L.sx, 'end', g);
      
      
    });
    const frame = shape('rect', {x: L.x0, y: top, width: L.x2 - L.x0, height: bottom - top, fill: 'none', stroke: '#555', 'stroke-width': 3}, g);
    
    
    const strip = shape('rect', {x: L.x1, y: top, width: L.x2 - L.x1, height: bottom - top, fill: '#d9d9d9', stroke: '#333', 'stroke-width': 2.5}, g);
    
    
    const st = shape('text', {transform: 'translate(' + ((L.x1 + L.x2) / 2 - 9) + ' ' + ((top + bottom) / 2) + ') rotate(90) scale(.85 1)', 'font-size': 27, 'text-anchor': 'middle', fill: '#222'}, g);
    st.textContent = f.strip;
    
    
  });
  const lastBottom = L.bottoms[L.bottoms.length - 1];
  xTicks.forEach(v => {
    const tick = shape('line', {x1: x(v), x2: x(v), y1: lastBottom, y2: lastBottom + 6, stroke: '#333', 'stroke-width': 2.5}, g);
    
    
    const t = label(x(v), lastBottom + L.tickDy, L.dec ? v.toFixed(L.dec) : String(v), 31, 0.8, 'middle', g);
    
    
  });
  const cb = shape('rect', {x: L.cbX0, y: L.cbY0, width: L.cbX1 - L.cbX0, height: L.cbY1 - L.cbY0, fill: 'url(#blue-red-lab)'}, g);
  
  
  const cy = linear(L.cbLo, L.cbHi, L.cbY1, L.cbY0);
  const tw = (L.cbX1 - L.cbX0) / 5;
  colorTicks.forEach(v => {
    const yy = cy(v);
    const t1 = shape('line', {x1: L.cbX0, x2: L.cbX0 + tw, y1: yy, y2: yy, stroke: '#fff', 'stroke-width': 2}, g);
    
    
    const t2 = shape('line', {x1: L.cbX1 - tw, x2: L.cbX1, y1: yy, y2: yy, stroke: '#fff', 'stroke-width': 2}, g);
    
    
    const t = label(L.cbX1 + 14, yy, L.cbDec ? v.toFixed(L.cbDec) : String(v), 30, 0.8, 'start', g);
    
    
  });
}

drawFacets(document.getElementById('panel-d'), [
  {strip: 'BP', terms: dBpTerms, counts: dBpCounts, pvalues: dBpPvalues},
  {strip: 'CC', terms: dCcTerms, counts: dCcCounts, pvalues: dCcPvalues},
  {strip: 'MF', terms: dMfTerms, counts: dMfCounts, pvalues: dMfPvalues}
], dXTicks, dColorTicks, {
  x0: 2155, x1: 2307.5, x2: 2350, unit: 16, tops: [1179, 1510, 1840.5], bottoms: [1492, 1822, 2154],
  rows: [1197.6, 1529, 1860], pitch: 30.8, barH: 28.5, fs: 29, sx: 0.87, tickDy: 28, dec: 1,
  cbX0: 2393, cbX1: 2436, cbY0: 1564, cbY1: 1829, cbLo: 1.32, cbHi: 6.13
});
drawFacets(document.getElementById('panel-f'), [
  {strip: 'BP', terms: fBpTerms, counts: fBpCounts, pvalues: fBpPvalues},
  {strip: 'CC', terms: fCcTerms, counts: fCcCounts, pvalues: fCcPvalues},
  {strip: 'MF', terms: fMfTerms, counts: fMfCounts, pvalues: fMfPvalues}
], fXTicks, fColorTicks, {
  x0: 902, x1: 1062, x2: 1107, unit: 21.7, tops: [2509, 2839, 3166], bottoms: [2820, 3147, 3476],
  rows: [2528, 2856, 3183], pitch: 30.6, barH: 28, fs: 29, sx: 0.915, tickDy: 27, dec: 0,
  cbX0: 1152, cbX1: 1197, cbY0: 2891.5, cbY1: 3153, cbLo: 1.34, cbHi: 3.6, cbDec: 1
});
drawFacets(document.getElementById('panel-h'), [
  {strip: 'BP', terms: hBpTerms, counts: hBpCounts, pvalues: hBpPvalues},
  {strip: 'CC', terms: hCcTerms, counts: hCcCounts, pvalues: hCcPvalues},
  {strip: 'MF', terms: hMfTerms, counts: hMfCounts, pvalues: hMfPvalues}
], hXTicks, hColorTicks, {
  x0: 3330, x1: 3553, x2: 3592, unit: 26.55, tops: [2545, 2872, 3200], bottoms: [2854, 3182, 3509],
  rows: [2564, 2891, 3217], pitch: 30.4, barH: 27.5, fs: 29, sx: 0.795, tickDy: 28, dec: 0,
  cbX0: 3631, cbX1: 3671, cbY0: 2927, cbY1: 3187, cbLo: 1.41, cbHi: 7.63
});
</script>
</body>
</html>
